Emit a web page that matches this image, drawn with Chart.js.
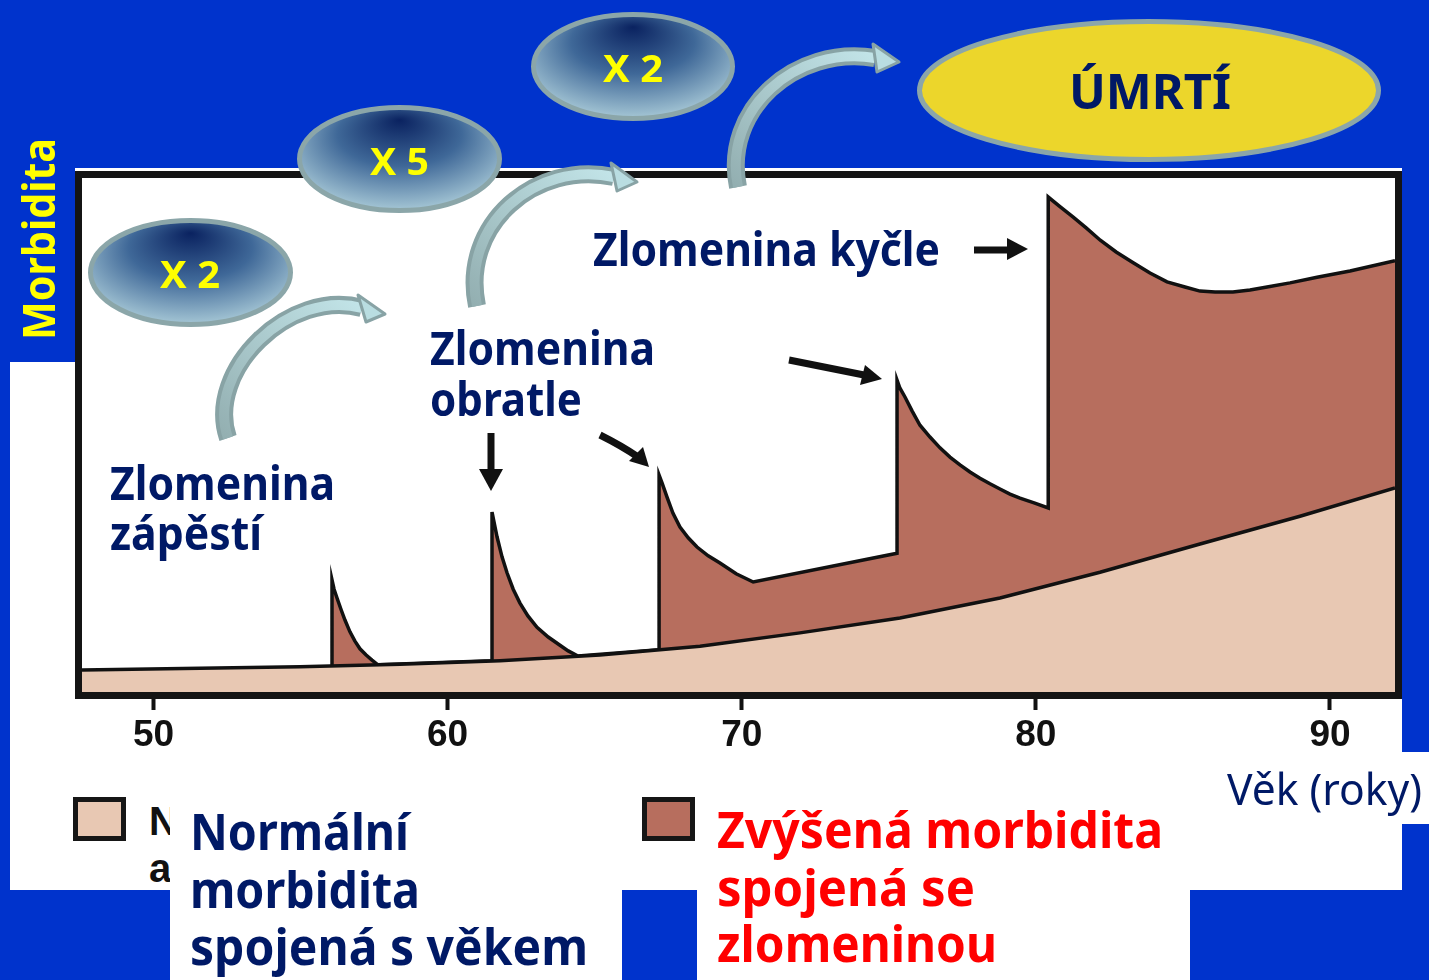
<!DOCTYPE html>
<html>
<head>
<meta charset="utf-8">
<script src="https://cdn.jsdelivr.net/npm/chart.js@4.4.1/dist/chart.umd.min.js"></script>
<style>
html, body { margin: 0; padding: 0; background: #0033cc; }
#slide { position: relative; width: 1429px; height: 980px; overflow: hidden; background: #0033cc; font-family: 'Noto Sans', sans-serif; }
.box { position: absolute; background: #fff; }
.t { position: absolute; white-space: nowrap; line-height: 1; font-weight: 700; transform-origin: 0 0; }
.navy { color: #001966; }
.sq { position: absolute; box-sizing: border-box; border: 5px solid #161616; }
#chart { position: absolute; left: 75px; top: 168px; }
svg { position: absolute; left: 0; top: 0; }
</style>
</head>
<body>
<div id="slide">
  <!-- white picture area -->
  <div class="box" style="left:75px;top:168px;width:1327px;height:722px"></div>
  <div class="box" style="left:10px;top:362px;width:66px;height:528px"></div>
  <div class="box" style="left:1205px;top:752px;width:224px;height:72px"></div>

  <canvas id="chart" width="1327" height="592"></canvas>

  <!-- leftovers of the original legend text -->
  <div class="t" style="font-family:'Liberation Sans',sans-serif;font-size:40px;left:149px;top:801px;color:#111">N</div>
  <div class="t" style="font-family:'Liberation Sans',sans-serif;font-size:40px;left:149px;top:848px;color:#111">a</div>
  <div class="sq" style="left:73px;top:797px;width:53px;height:44px;background:#e8c8b3"></div>
  <div class="sq" style="left:642px;top:797px;width:53px;height:44px;background:#b76e5e"></div>

  <div class="box" style="left:170px;top:795px;width:452px;height:185px"></div>
  <div class="box" style="left:697px;top:790px;width:493px;height:190px"></div>

  <svg width="1429" height="980">
    <defs>
      <radialGradient id="eg" cx="50%" cy="40%" r="62%" fx="50%" fy="12%">
        <stop offset="0" stop-color="#0a2260"/>
        <stop offset="0.5" stop-color="#3f6898"/>
        <stop offset="1" stop-color="#aacbd8"/>
      </radialGradient>
      <linearGradient id="ag" x1="0" y1="1" x2="1" y2="0">
        <stop offset="0" stop-color="#93afb1"/>
        <stop offset="1" stop-color="#c2e4e8"/>
      </linearGradient>
    </defs>
    <!-- ellipses -->
    <ellipse cx="190.5" cy="272.5" rx="100" ry="52" fill="url(#eg)" stroke="#8ba6a9" stroke-width="5"/>
    <ellipse cx="399.5" cy="159" rx="100" ry="51.5" fill="url(#eg)" stroke="#8ba6a9" stroke-width="5"/>
    <ellipse cx="633" cy="66.5" rx="99.5" ry="52" fill="url(#eg)" stroke="#8ba6a9" stroke-width="5"/>
    <ellipse cx="1149" cy="90.5" rx="229.5" ry="69" fill="#ecd62b" stroke="#8ba6a9" stroke-width="5"/>

    <!-- curved grey arrows -->
    <g fill="none">
      <path d="M228 438 C205 370 290 288 362 308" stroke="#88a3a5" stroke-width="18"/>
      <path d="M228 438 C205 370 290 288 362 308" stroke="url(#ag)" stroke-width="10"/>
      <path d="M477 306 C460 225 535 160 614 177" stroke="#88a3a5" stroke-width="18"/>
      <path d="M477 306 C460 225 535 160 614 177" stroke="url(#ag)" stroke-width="10"/>
      <path d="M738 187 C722 110 795 45 875 58" stroke="#88a3a5" stroke-width="18"/>
      <path d="M738 187 C722 110 795 45 875 58" stroke="url(#ag)" stroke-width="10"/>
    </g>
    <g fill="#b9dde1" stroke="#88a3a5" stroke-width="3" stroke-linejoin="round">
      <polygon points="385,314 358,295 366,322"/>
      <polygon points="637,182 611,163 617,191"/>
      <polygon points="899,62 873,44 877,72"/>
    </g>

    <!-- black arrows -->
    <g stroke="#111" stroke-width="7" fill="none">
      <line x1="491" y1="433" x2="491" y2="472"/>
      <path d="M600 435 Q622 446 638 457"/>
      <line x1="789" y1="360" x2="864" y2="375"/>
      <line x1="974" y1="250" x2="1010" y2="250"/>
    </g>
    <g fill="#111">
      <polygon points="479,469 503,469 491,491"/>
      <polygon points="649,467 643,447 629,461"/>
      <polygon points="882,379 860,385 865,365"/>
      <polygon points="1028,249 1007,238 1007,260"/>
    </g>
  </svg>

  <!-- texts -->
  <div class="t" id="morb" data-w="202" style="font-size:44px;color:#ffff00;left:0;top:0">Morbidita</div>

  <div class="t" data-w="60" style="font-size:38px;color:#ffff00;left:160px;top:254px">X 2</div>
  <div class="t" data-w="59" style="font-size:38px;color:#ffff00;left:370px;top:141px">X 5</div>
  <div class="t" data-w="60" style="font-size:38px;color:#ffff00;left:603px;top:48px">X 2</div>
  <div class="t navy" data-w="162" style="font-size:48px;left:1069px;top:67px">ÚMRTÍ</div>

  <div class="t navy" data-w="347" style="font-size:46px;left:593px;top:225px">Zlomenina kyčle</div>
  <div class="t navy" data-w="225" style="font-size:46px;left:430px;top:324px">Zlomenina</div>
  <div class="t navy" data-w="152" style="font-size:46px;left:430px;top:375px">obratle</div>
  <div class="t navy" data-w="225" style="font-size:46px;left:110px;top:459px">Zlomenina</div>
  <div class="t navy" data-w="152" style="font-size:46px;left:110px;top:509px">zápěstí</div>

  <div class="t navy" data-w="195" style="font-size:44px;font-weight:400;left:1227px;top:766px">Věk (roky)</div>

  <div class="t navy" data-w="219" style="font-size:50px;left:190px;top:806px">Normální</div>
  <div class="t navy" data-w="230" style="font-size:50px;left:190px;top:864px">morbidita</div>
  <div class="t navy" data-w="398" style="font-size:50px;left:190px;top:921px">spojená s věkem</div>

  <div class="t" data-w="446" style="font-size:50px;color:#ff0000;left:717px;top:804px">Zvýšená morbidita</div>
  <div class="t" data-w="258" style="font-size:50px;color:#ff0000;left:717px;top:862px">spojená se</div>
  <div class="t" data-w="280" style="font-size:50px;color:#ff0000;left:717px;top:918px">zlomeninou</div>
</div>

<script>
// age axis (years)
const tickValues = [50, 60, 70, 80, 90];

// normal, age related morbidity (beige area)
const normalAge   = [47.57, 51.58, 54.98, 58.38, 61.78, 65.18, 68.58, 71.98, 75.38, 78.78, 82.18, 85.58, 88.98, 92.21];
const normalValue = [4.3, 4.6, 4.9, 5.4, 6.1, 7.2, 8.9, 11.5, 14.4, 18.3, 23.3, 28.8, 34.2, 39.7];

// total morbidity incl. fractures (brown area): wrist, vertebra x3, hip
const totalAge = [
  56.07, 56.07, 56.14, 56.24, 56.38, 56.51, 56.68, 56.85, 57.02, 57.23, 57.43, 57.63,
  61.51, 61.51, 61.68, 61.85, 62.02, 62.23, 62.46, 62.73, 63.04, 63.42, 63.82, 64.10, 64.43,
  67.19, 67.19, 67.29, 67.46, 67.66, 67.9, 68.18, 68.48, 68.86, 69.26, 69.81, 70.39,
  75.28, 75.28, 75.38, 75.55, 75.79, 76.06, 76.40, 76.74, 77.08, 77.42, 77.76, 78.1, 78.44, 78.78, 79.12, 79.46, 79.94, 80.42,
  80.42, 80.83, 81.27, 81.71, 82.19, 82.73, 83.31, 83.88, 84.46, 85.07, 85.58, 86.09, 86.7, 87.28, 87.86, 88.64, 89.56, 90.68, 92.21
];
const totalValue = [
  5.1, 21.8, 20.0, 18.3, 16.0, 14.0, 11.7, 9.9, 8.4, 7.2, 6.2, 5.3,
  6.1, 35.0, 30.2, 26.3, 23.2, 20.0, 17.3, 14.8, 12.6, 10.7, 9.1, 8.0, 7.0,
  8.2, 42.2, 40.7, 37.9, 34.8, 32.1, 30.0, 28.2, 26.5, 25.1, 23.0, 21.4,
  27.0, 60.7, 59.1, 57.4, 54.7, 51.9, 49.6, 47.5, 45.7, 44.2, 42.8, 41.6, 40.5, 39.5, 38.5, 37.7, 36.8, 35.8,
  96.3, 94.4, 92.4, 90.3, 87.9, 85.6, 83.5, 81.5, 79.8, 78.8, 78.0, 77.8, 77.8, 78.2, 78.8, 79.6, 80.7, 81.9, 83.9
];

const toPoints = (xs, ys) => xs.map((x, i) => ({ x: x, y: ys[i] }));

// thick black frame round the plot
const framePlugin = {
  id: 'frame',
  afterDraw(chart) {
    const a = chart.chartArea;
    const ctx = chart.ctx;
    ctx.save();
    ctx.strokeStyle = '#141414';
    ctx.lineWidth = 7;
    ctx.strokeRect(a.left - 3.5, a.top - 3.5, a.right - a.left + 7, a.bottom - a.top + 7);
    ctx.restore();
  }
};

new Chart(document.getElementById('chart').getContext('2d'), {
  type: 'line',
  data: {
    datasets: [
      {
        label: 'Normální morbidita spojená s věkem',
        data: toPoints(normalAge, normalValue),
        borderColor: '#111',
        borderWidth: 3.5,
        backgroundColor: '#e8c8b3',
        fill: 'origin',
        pointRadius: 0,
        tension: 0
      },
      {
        label: 'Zvýšená morbidita spojená se zlomeninou',
        data: toPoints(totalAge, totalValue),
        borderColor: '#111',
        borderWidth: 3.5,
        borderJoinStyle: 'miter',
        backgroundColor: '#b76e5e',
        fill: 'origin',
        pointRadius: 0,
        tension: 0
      }
    ]
  },
  options: {
    responsive: false,
    animation: false,
    layout: { padding: { left: 7, right: 7, top: 10, bottom: 8 } },
    plugins: { legend: { display: false }, tooltip: { enabled: false } },
    scales: {
      x: {
        type: 'linear',
        min: 47.57,
        max: 92.21,
        afterBuildTicks: scale => { scale.ticks = tickValues.map(v => ({ value: v })); },
        afterFit: scale => { scale.height = 60; },
        border: { display: false },
        grid: { drawOnChartArea: false, drawTicks: true, tickLength: 18, tickWidth: 4, tickColor: '#111' },
        ticks: {
          padding: 4,
          color: '#111',
          maxRotation: 0,
          font: { family: "'Liberation Sans Narrow', 'Liberation Sans', sans-serif", weight: 'bold', size: 37 }
        }
      },
      y: { display: false, min: 0, max: 100 }
    }
  },
  plugins: [framePlugin]
});

// squeeze the texts to the widths seen on the slide
document.querySelectorAll('.t[data-w]').forEach(el => {
  const w = el.getBoundingClientRect().width;
  const k = Number(el.dataset.w) / w;
  if (el.id === 'morb') {
    const fs = 44;
    el.style.transform = 'translate(' + (55 - 0.888 * fs) + 'px, 340px) rotate(-90deg) scaleX(' + k + ')';
  } else {
    el.style.transform = 'scaleX(' + k + ')';
  }
});
</script>
</body>
</html>
